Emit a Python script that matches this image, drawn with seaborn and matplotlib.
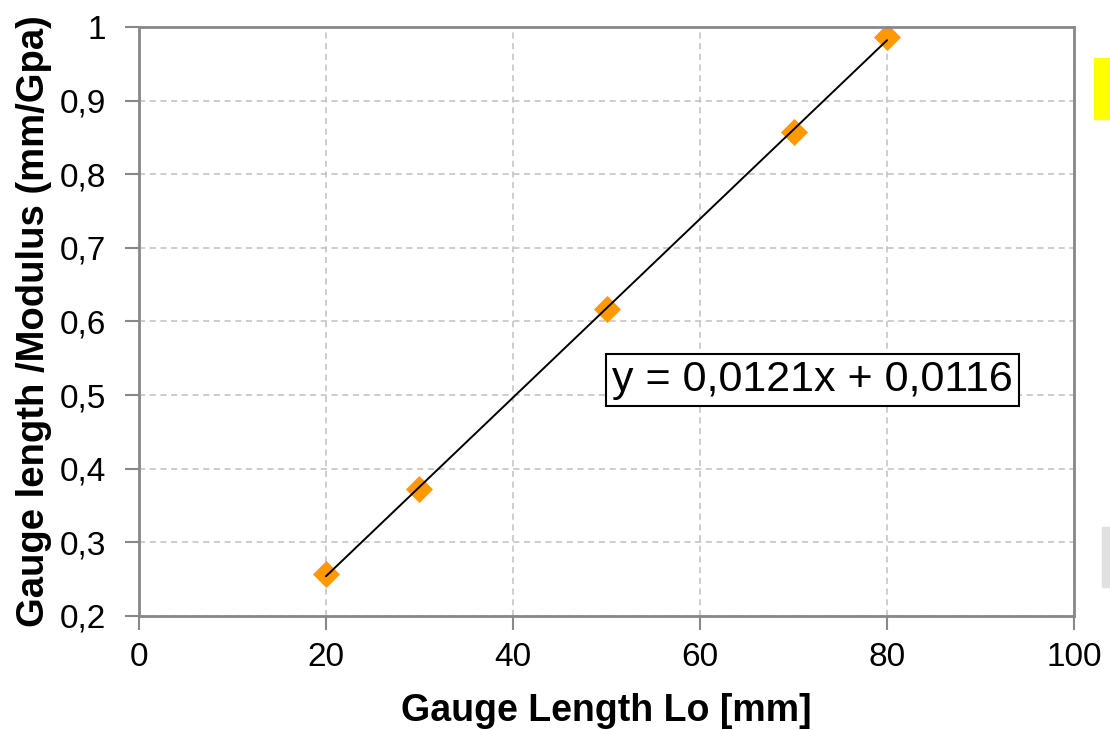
import numpy as np
import pandas as pd
import matplotlib.pyplot as plt
import matplotlib.patches as mpatches
import seaborn as sns

# ─── DATA ───────────────────────────────────────────────
gauge_length = [20, 30, 50, 70, 80]
ratio = [0.257, 0.373, 0.617, 0.857, 0.986]

x_ticks = [0, 20, 40, 60, 80, 100]
y_ticks = [0.2, 0.3, 0.4, 0.5, 0.6, 0.7, 0.8, 0.9, 1.0]

df = pd.DataFrame({"Lo": gauge_length, "ratio": ratio})

# ─── STYLE ──────────────────────────────────────────────
sns.set_style("white")
plt.rcParams['font.family'] = ['Liberation Sans', 'DejaVu Sans']
plt.rcParams['text.color'] = 'black'
plt.rcParams['axes.labelcolor'] = 'black'
plt.rcParams['xtick.labelcolor'] = 'black'
plt.rcParams['ytick.labelcolor'] = 'black'

fig = plt.figure(figsize=(11.1, 7.3), dpi=100)
ax = fig.add_axes([0.1252, 0.1562, 0.8424, 0.8068])

grid_col = '#c0c0c0'
spine_col = '#888888'

ax.set_xlim(0, 100)
ax.set_ylim(0.2, 1.0)
ax.set_xticks(x_ticks)
ax.set_yticks(y_ticks)
ax.grid(True, color=grid_col, linestyle=(0, (4, 3)), linewidth=1.1)
ax.set_axisbelow(True)

# trend line (linear fit) then markers
sns.regplot(data=df, x="Lo", y="ratio", ax=ax, ci=None, scatter=False,
            line_kws=dict(color='black', linewidth=1.4, zorder=3))
sns.scatterplot(data=df, x="Lo", y="ratio", ax=ax, marker='D', s=190,
                color='#ff9900', edgecolor='#ff9900', linewidth=0, zorder=2)

ax.set_xticklabels([str(v) for v in x_ticks])
ax.set_yticklabels([f"{v:g}".replace('.', ',') for v in y_ticks])
ax.tick_params(axis='both', labelsize=24, direction='out', length=10,
               width=1.5, color=spine_col, left=True, bottom=True)
ax.tick_params(axis='y', pad=14)
ax.tick_params(axis='x', pad=9)
for s in ax.spines.values():
    s.set_color(spine_col)
    s.set_linewidth(2)

ax.set_xlabel("Gauge Length Lo [mm]", fontsize=27, fontweight='bold', labelpad=14)
ax.set_ylabel("Gauge length /Modulus (mm/Gpa)", fontsize=27.5, fontweight='bold', labelpad=5)

# equation of the fit
eq = "y = 0,0121x + 0,0116"
ax.text(50.6, 0.521, eq, fontsize=31, va='center', ha='left',
        bbox=dict(boxstyle='square,pad=0.14', facecolor='white',
                  edgecolor='black', linewidth=1.5), zorder=5)

# clipped legend pieces at right edge
fig.patches.append(mpatches.Rectangle((1094 / 1110, 1 - 119 / 730), 20 / 1110, 61 / 730,
                                      transform=fig.transFigure, color='#ffff00'))
fig.patches.append(mpatches.Rectangle((1102 / 1110, 1 - 587 / 730), 20 / 1110, 60 / 730,
                                      transform=fig.transFigure, color='#e0e0e0'))

fig.savefig("out.png", dpi=100)
